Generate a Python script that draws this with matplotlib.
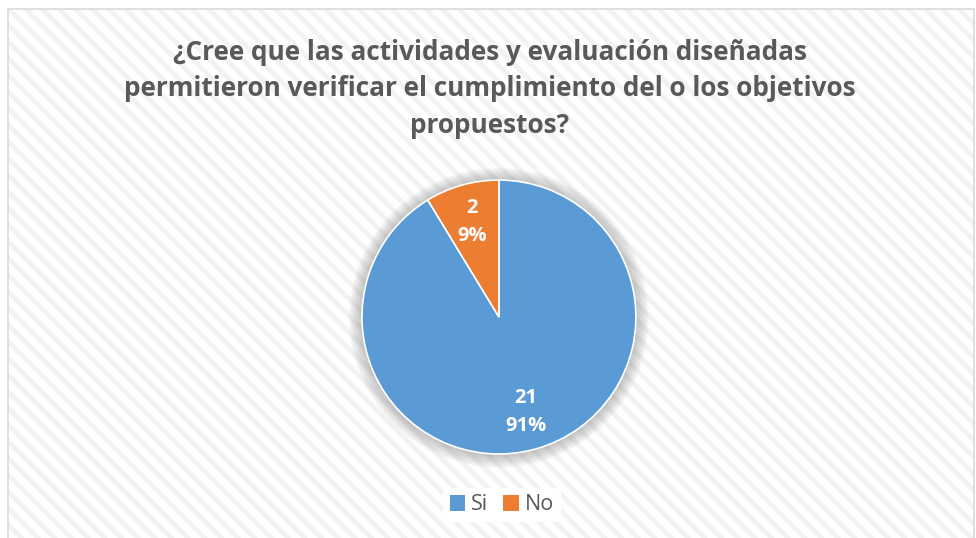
import numpy as np
import matplotlib.pyplot as plt
from matplotlib.patches import Rectangle, Circle

plt.rcParams['font.family'] = ['Open Sans', 'DejaVu Sans']
plt.rcParams['hatch.linewidth'] = 3.5

title = "¿Cree que las actividades y evaluación diseñadas\npermitieron verificar el cumplimiento del o los objetivos\npropuestos?"
labels = ["Si", "No"]
counts = [21, 2]
colors = ["#5b9bd5", "#ed7d31"]

fig = plt.figure(figsize=(9.76, 5.38), dpi=100)

# chart area with light diagonal stripes
area = (8 / 976, -0.01, 966 / 976, (538 - 9) / 538 + 0.01)
stripes = Rectangle(area[:2], area[2], area[3], transform=fig.transFigure,
                    facecolor='white', edgecolor='#f2f2f2', linewidth=0,
                    hatch='\\\\', zorder=-2)
border = Rectangle(area[:2], area[2], area[3], transform=fig.transFigure,
                   facecolor='none', edgecolor='#d9d9d9', linewidth=1.2, zorder=-1)
fig.patches.extend([stripes, border])

fig.text(0.502, 1 - 89 / 538, title, ha='center', va='center', fontsize=18.8,
         fontweight='bold', color='#595959', linespacing=1.43)

ax = fig.add_axes([0.3498, 0.1179, 0.3228, 0.5857])
ax.axis('off')

# soft shadow around the pie
for i in range(12):
    r = 1.0 + 0.008 * (i + 1)
    ax.add_patch(Circle((0, -0.005), r, facecolor='#7f7f7f', edgecolor='none',
                        alpha=0.045, zorder=0))

total = sum(counts)
wedges, texts = ax.pie(counts, colors=colors, startangle=90, counterclock=False,
                       radius=1.0,
                       wedgeprops=dict(linewidth=1.2, edgecolor='white'))
for w in wedges:
    w.set_zorder(2)

for w, c in zip(wedges, counts):
    ang = np.deg2rad((w.theta1 + w.theta2) / 2)
    ax.text(0.72 * np.cos(ang), 0.72 * np.sin(ang),
            "%d\n%d%%" % (c, round(100 * c / total)),
            ha='center', va='center', color='white', fontsize=14.5,
            fontweight='bold', linespacing=1.55, zorder=3)
ax.set_xlim(-1.15, 1.15)
ax.set_ylim(-1.15, 1.15)

handles = [Rectangle((0, 0), 1, 1, facecolor=c) for c in colors]
fig.legend(handles, labels, loc='center', bbox_to_anchor=(502 / 976, 1 - 505 / 538),
           ncol=2, frameon=True, fontsize=15.5, handlelength=0.7, handleheight=0.7,
           handletextpad=0.3, columnspacing=0.7, labelcolor='#595959',
           facecolor='white', edgecolor='none', framealpha=1, borderpad=0.3)

fig.savefig('out.png', dpi=100)
